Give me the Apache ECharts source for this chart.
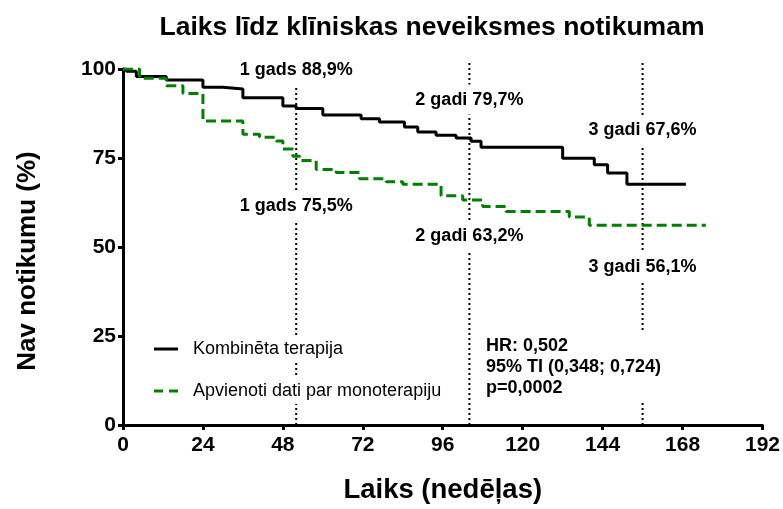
<!DOCTYPE html>
<html><head><meta charset="utf-8">
<script src="https://cdn.jsdelivr.net/npm/echarts@6/dist/echarts.min.js"></script>
<style>html,body{margin:0;padding:0;background:#fff}#c{width:783px;height:509px}</style>
</head><body><div id="c"></div>
<script>
// ---- data ----
const titleText = 'Laiks līdz klīniskas neveiksmes notikumam';
const xName = 'Laiks (nedēļas)';
const yName = 'Nav notikumu (%)';
const xTicks = [0, 24, 48, 72, 96, 120, 144, 168, 192];
const yTicks = [0, 25, 50, 75, 100];
const seriesNames = ['Kombinēta terapija', 'Apvienoti dati par monoterapiju'];
const combinedTimes = [0, 1, 4, 13, 24, 30, 36, 48, 52, 60, 71.5, 77, 84.5, 88.5, 94, 100, 104.5, 107.5, 132, 141.5, 145.5, 151.3, 169];
const combinedSurv  = [100, 99.4, 97.9, 96.9, 94.9, 94.4, 91.9, 89.6, 88.9, 87.1, 86.0, 85.1, 83.7, 82.3, 81.4, 80.6, 79.7, 78.0, 74.9, 73.1, 70.8, 67.6, 67.6];
const monoTimes = [0, 5, 13, 18, 24, 36, 41, 46, 48, 51, 53, 58, 64, 71, 79, 84, 95.5, 102, 108, 115, 134, 140, 175];
const monoSurv  = [100, 97.4, 95.3, 93.1, 85.4, 81.7, 80.8, 79.8, 77.5, 75.5, 74.3, 71.8, 70.9, 69.2, 68.3, 67.6, 64.4, 63.2, 61.4, 60.0, 58.4, 56.1, 56.1];
const landmarkWeeks = [52, 104, 156];
const landmarkCombined = ['1 gads 88,9%', '2 gadi 79,7%', '3 gadi 67,6%'];
const landmarkMono = ['1 gads 75,5%', '2 gadi 63,2%', '3 gadi 56,1%'];
const statsLines = ['HR: 0,502', '95% TI (0,348; 0,724)', 'p=0,0002'];

// ---- layout ----
const FF = '"Liberation Sans", Arial, sans-serif';
const upperLabelY = [99.7, 91.4, 82.8];
const lowerLabelY = [61.4, 53.1, 44.5];
const markTop = 102.5;

const chart = echarts.init(document.getElementById('c'), null, {renderer: 'canvas'});

const zip = (a, b) => a.map((t, i) => [t, b[i]]);

const markSeries = landmarkWeeks.map(w => ({
  type: 'line', data: [[w, 0], [w, markTop]], symbol: 'none', clip: false, silent: true, z: 1,
  lineStyle: {color: '#000', width: 2, type: [2, 3]}
}));

const axisCommon = {
  axisLine: {show: true, lineStyle: {color: '#000', width: 3}},
  axisTick: {show: true, length: 5, lineStyle: {color: '#000', width: 3}},
  splitLine: {show: false},
  nameLocation: 'middle'
};

const legendCommon = {
  left: 150, orient: 'vertical', itemWidth: 24, itemHeight: 3,
  backgroundColor: '#fff', padding: [4, 4], z: 6,
  textStyle: {fontSize: 18, color: '#000', fontFamily: FF, padding: [0, 0, 0, 10]}
};

chart.setOption({
  animation: false,
  backgroundColor: '#fff',
  title: {text: titleText, left: 432, top: 14, padding: 0, textAlign: 'center',
    textStyle: {fontSize: 26.5, fontWeight: 'bold', color: '#000', fontFamily: FF}},
  grid: {left: 123, right: 20, top: 69, bottom: 78, containLabel: false},
  xAxis: Object.assign({}, axisCommon, {
    type: 'value', min: xTicks[0], max: xTicks[xTicks.length - 1], interval: xTicks[1] - xTicks[0],
    name: xName, nameGap: 51,
    nameTextStyle: {fontSize: 27.5, fontWeight: 'bold', color: '#000', fontFamily: FF},
    axisLabel: {fontSize: 21, fontWeight: 'bold', color: '#000', margin: 10, fontFamily: FF}
  }),
  yAxis: Object.assign({}, axisCommon, {
    type: 'value', min: yTicks[0], max: yTicks[yTicks.length - 1], interval: yTicks[1] - yTicks[0],
    name: yName, nameGap: 82,
    nameTextStyle: {fontSize: 26, fontWeight: 'bold', color: '#000', fontFamily: FF, padding: [0, 28, 0, 0]},
    axisLabel: {fontSize: 21, fontWeight: 'bold', color: '#000', margin: 7, fontFamily: FF}
  }),
  legend: [
    Object.assign({}, legendCommon, {top: 336, data: [{name: seriesNames[0], icon: 'rect'}]}),
    Object.assign({}, legendCommon, {top: 378, data: [{name: seriesNames[1], icon: 'path://M0,0h9v3h-9z M15,0h9v3h-9z'}]})
  ],
  series: markSeries.concat([
    {name: seriesNames[0], type: 'line', step: 'end', symbol: 'none', z: 3,
     data: zip(combinedTimes, combinedSurv),
     lineStyle: {color: '#000', width: 3}, itemStyle: {color: '#000'}},
    {name: seriesNames[1], type: 'line', step: 'end', symbol: 'none', z: 3,
     data: zip(monoTimes, monoSurv),
     lineStyle: {color: '#008000', width: 3, type: [10, 5]}, itemStyle: {color: '#008000'}}
  ])
});

// annotation texts anchored in data coordinates
const graphics = [];
landmarkWeeks.forEach((w, i) => {
  [[upperLabelY[i], landmarkCombined[i]], [lowerLabelY[i], landmarkMono[i]]].forEach(([yv, txt]) => {
    const p = chart.convertToPixel({gridIndex: 0}, [w, yv]);
    graphics.push({
      type: 'text', x: p[0], y: p[1], z: 50,
      style: {text: txt, font: 'bold 18px ' + FF, fill: '#000', align: 'center', verticalAlign: 'middle',
        backgroundColor: '#fff', padding: [6, 4]}
    });
  });
});
graphics.push({
  type: 'text', left: 482, top: 333, z: 50,
  style: {text: statsLines.join('\n'), font: 'bold 18px ' + FF, lineHeight: 21, fill: '#000',
    backgroundColor: '#fff', padding: [3, 4]}
});
chart.setOption({graphic: graphics});
</script>
</body></html>
